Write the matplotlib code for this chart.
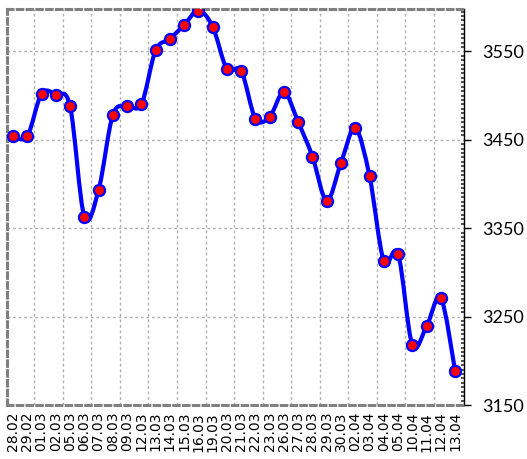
import numpy as np
import matplotlib.pyplot as plt
from matplotlib.path import Path
from matplotlib.patches import PathPatch
from matplotlib.ticker import MultipleLocator

# Data
dates = ["28.02", "29.02", "01.03", "02.03", "05.03", "06.03", "07.03", "08.03",
         "09.03", "12.03", "13.03", "14.03", "15.03", "16.03", "19.03", "20.03",
         "21.03", "22.03", "23.03", "26.03", "27.03", "28.03", "29.03", "30.03",
         "02.04", "03.04", "04.04", "05.04", "10.04", "11.04", "12.04", "13.04"]
values = [3454, 3454, 3502, 3501, 3488, 3363, 3393, 3478,
          3488, 3490, 3551, 3564, 3580, 3596, 3578, 3530,
          3528, 3474, 3476, 3504, 3470, 3431, 3381, 3424,
          3463, 3409, 3313, 3321, 3218, 3239, 3271, 3189]
y_ticks = [3150, 3250, 3350, 3450, 3550]

x = np.arange(len(values))
y = np.array(values, dtype=float)

fig = plt.figure(figsize=(5.27, 4.59), dpi=100)
ax = fig.add_axes([0.0133, 0.1176, 0.867, 0.863])

# smooth line (Catmull-Rom -> cubic Bezier)
pts = np.column_stack([x, y])
ext = np.vstack([pts[0], pts, pts[-1]])
verts = [pts[0]]
codes = [Path.MOVETO]
for i in range(len(pts) - 1):
    p0, p1, p2, p3 = ext[i], ext[i + 1], ext[i + 2], ext[i + 3]
    verts += [p1 + (p2 - p0) / 6, p2 - (p3 - p1) / 6, p2]
    codes += [Path.CURVE4] * 3
ax.add_patch(PathPatch(Path(verts, codes), fill=False, edgecolor="#0000ff",
                       lw=3, zorder=3, capstyle="round", joinstyle="round"))
ax.plot(x, y, "o", ms=8, mfc="#ff0000", mec="#0000ff", mew=1.6, zorder=4)

ax.set_xlim(-0.42, 31.62)
ax.set_ylim(3150, 3598)

ax.set_xticks(x)
ax.set_xticklabels(dates, rotation=90, fontsize=10, family="DejaVu Sans")
ax.set_xticks(np.arange(1.5, 30, 2), minor=True)
ax.tick_params(axis="x", which="both", length=0, pad=5)

ax.yaxis.tick_right()
ax.set_yticks(y_ticks)
ax.yaxis.set_minor_locator(MultipleLocator(5))
ax.tick_params(axis="y", which="major", direction="out", length=5, width=1,
               color="black", pad=8, labelsize=13)
ax.tick_params(axis="y", which="minor", direction="in", length=2, width=1.5,
               color="#555555")
for lab in ax.get_yticklabels():
    lab.set_family("Lato")

ax.grid(axis="y", which="major", color="#b0b0b0", ls=(0, (2, 2)), lw=1)
ax.grid(axis="x", which="minor", color="#b0b0b0", ls=(0, (2, 2)), lw=1)

for side in ["left", "top", "bottom"]:
    ax.spines[side].set_color("#808080")
    ax.spines[side].set_linewidth(2.2)
    ax.spines[side].set_linestyle((0, (1.8, 1.4)))
ax.spines["right"].set_color("black")
ax.spines["right"].set_linewidth(1)

fig.savefig("out.png", dpi=100)
